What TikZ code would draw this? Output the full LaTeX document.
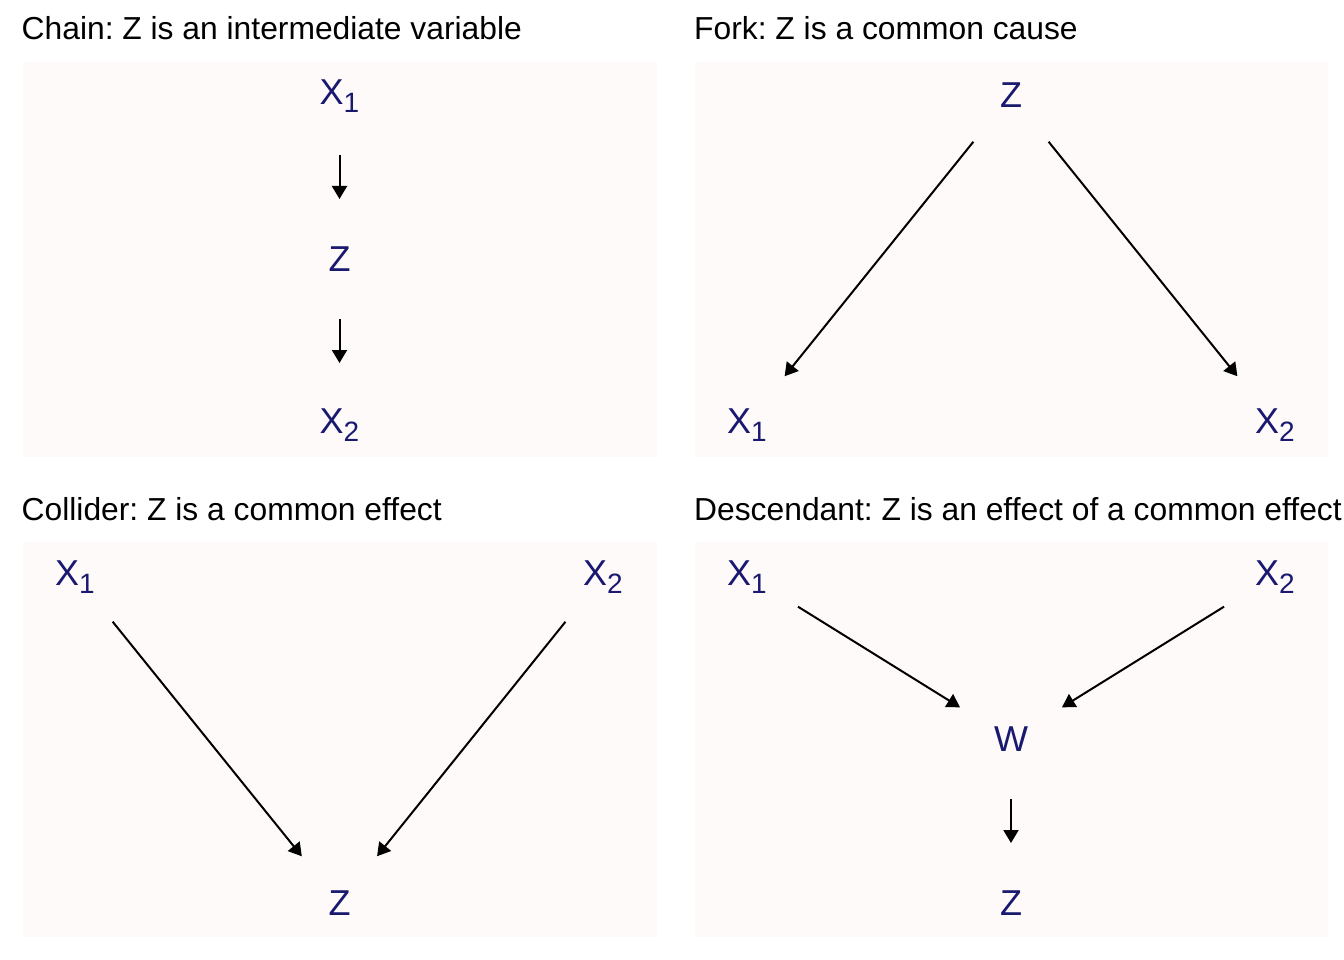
\documentclass[tikz,border=0pt]{standalone}
\usepackage{fontspec}
\setmainfont{Liberation Sans}
\usetikzlibrary{arrows.meta}
\definecolor{panelbg}{HTML}{FFFAFA}
\definecolor{nodecol}{HTML}{191970}
\newcommand\vsub[1]{\raisebox{-8pt}{\fontsize{28}{28}\selectfont #1}}
\frenchspacing
\begin{document}
\begin{tikzpicture}[x=1pt,y=-1pt,
  panel/.style={fill=panelbg, draw=none},
  title/.style={anchor=base west, inner sep=0pt, font=\fontsize{31.8}{36}\selectfont},
  var/.style={inner sep=0pt, text=nodecol, font=\fontsize{36}{40}\selectfont, text height=25pt, text depth=0pt},
  varsub/.style={var, text depth=5pt},
  edge/.style={line width=2pt, -{Triangle[length=13pt,width=15pt]}, shorten <=60pt, shorten >=60pt}]
\useasboundingbox (0,0) rectangle (1344,960);
\fill[white] (0,0) rectangle (1344,960);
% panels
\fill[panel] (23,62) rectangle (657,457);
\fill[panel] (695,62) rectangle (1328,457);
\fill[panel] (23,542) rectangle (657,937);
\fill[panel] (695,542) rectangle (1328,937);
% titles
\node[title] (t1) at (21.5,40) {Chain: Z is an intermediate variable};
\node[title] (t2) at (694,40) {Fork: Z is a common cause};
\node[title] (t3) at (21.5,520) {Collider: Z is a common effect};
\node[title] (t4) at (694,520) {Descendant: Z is an effect of a common effect};
% chain
\node[varsub] (c1) at (339.5,95) {X\vsub{1}};
\node[var] (cz) at (339.5,259) {Z};
\node[varsub] (c2) at (339.5,423) {X\vsub{2}};
\draw[edge] (c1.center) -- (cz.center);
\draw[edge] (cz.center) -- (c2.center);
% fork
\node[var] (fz) at (1011,95) {Z};
\node[varsub] (f1) at (747,423) {X\vsub{1}};
\node[varsub] (f2) at (1275,423) {X\vsub{2}};
\draw[edge] (fz.center) -- (f1.center);
\draw[edge] (fz.center) -- (f2.center);
% collider
\node[varsub] (k1) at (75,575) {X\vsub{1}};
\node[varsub] (k2) at (603,575) {X\vsub{2}};
\node[var] (kz) at (339.5,903) {Z};
\draw[edge] (k1.center) -- (kz.center);
\draw[edge] (k2.center) -- (kz.center);
% descendant
\node[varsub] (d1) at (747,575) {X\vsub{1}};
\node[varsub] (d2) at (1275,575) {X\vsub{2}};
\node[var] (dw) at (1011,739) {W};
\node[var] (dz) at (1011,903) {Z};
\draw[edge] (d1.center) -- (dw.center);
\draw[edge] (d2.center) -- (dw.center);
\draw[edge] (dw.center) -- (dz.center);
\end{tikzpicture}
\end{document}
